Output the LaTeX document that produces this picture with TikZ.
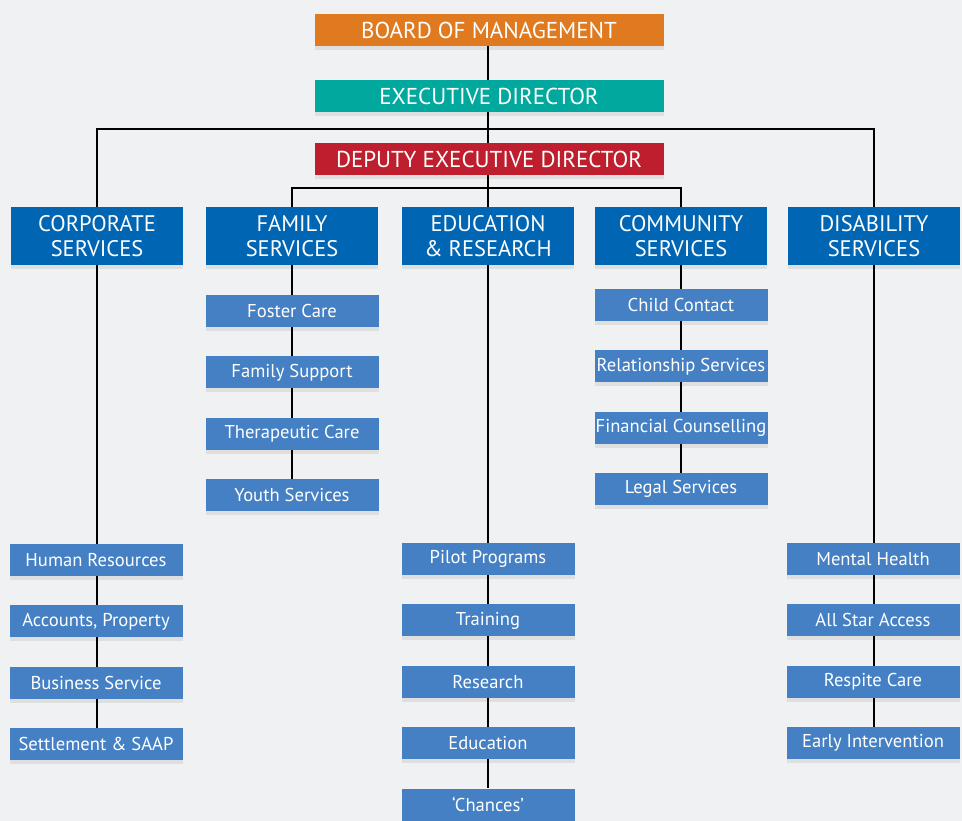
\documentclass[tikz,border=0pt]{standalone}
\usepackage{fontspec}
\setmainfont{PT Sans}
\usepackage{tikz}
\usetikzlibrary{positioning,backgrounds,shadows}
\definecolor{boardcolor}{RGB}{224,122,32}
\definecolor{execcolor}{RGB}{0,168,157}
\definecolor{deputycolor}{RGB}{190,30,45}
\definecolor{headcolor}{RGB}{0,102,179}
\definecolor{itemcolor}{RGB}{68,128,195}
\definecolor{bgcolor}{RGB}{240,241,242}

\begin{document}
\begin{tikzpicture}[
    x=1pt, y=-1pt,
    node distance=29pt,
    shade/.style={drop shadow={shadow xshift=0pt, shadow yshift=-4pt, opacity=0.07, fill=black}},
    topbox/.style={rectangle, shade, minimum width=349pt, minimum height=32pt, inner sep=0pt, text=white, font=\fontsize{23}{25}\selectfont},
    headbox/.style={rectangle, shade, fill=headcolor, minimum width=172pt, minimum height=58pt, inner sep=0pt, align=center, text=white, font=\fontsize{22.5}{25}\selectfont},
    itembox/.style={rectangle, shade, fill=itemcolor, minimum width=173pt, minimum height=32pt, inner sep=0pt, text=white, font=\fontsize{18.6}{21}\selectfont},
    link/.style={line width=2pt, black}
]
    \useasboundingbox (0,0) rectangle (962,821);

    % Top of the chart
    \node[topbox, fill=boardcolor] (board) at (489,30) {BOARD OF MANAGEMENT};
    \node[topbox, fill=execcolor] (exec) at (489,96) {EXECUTIVE DIRECTOR};
    \node[topbox, fill=deputycolor] (deputy) at (489,159) {DEPUTY EXECUTIVE DIRECTOR};

    % Services
    \node[headbox] (corp) at (97,236) {CORPORATE\\SERVICES};
    \node[headbox] (fam) at (292,236) {FAMILY\\SERVICES};
    \node[headbox] (edu) at (488,236) {EDUCATION\\\& RESEARCH};
    \node[headbox] (com) at (681,236) {COMMUNITY\\SERVICES};
    \node[headbox] (dis) at (874,236) {DISABILITY\\SERVICES};

    % Corporate services
    \node[itembox] (hr) at (96,560) {Human Resources};
    \node[itembox, below=of hr] (acc) {Accounts, Property};
    \node[itembox, below=of acc] (bus) {Business Service};
    \node[itembox, below=of bus] (settle) {Settlement \& SAAP};

    % Family services
    \node[itembox] (foster) at (292,311) {Foster Care};
    \node[itembox, below=of foster] (famsup) {Family Support};
    \node[itembox, below=of famsup] (thera) {Therapeutic Care};
    \node[itembox, below=of thera] (youth) {Youth Services};

    % Education & research
    \node[itembox] (pilot) at (488,559) {Pilot Programs};
    \node[itembox, below=of pilot] (train) {Training};
    \node[itembox, below=of train] (research) {Research};
    \node[itembox, below=of research] (educ) {Education};
    \node[itembox, below=of educ] (chances) {`Chances'};

    % Community services
    \node[itembox] (child) at (681,305) {Child Contact};
    \node[itembox, below=of child] (rel) {Relationship Services};
    \node[itembox, below=of rel] (fin) {Financial Counselling};
    \node[itembox, below=of fin] (legal) {Legal Services};

    % Disability services
    \node[itembox] (mental) at (873,559) {Mental Health};
    \node[itembox, below=of mental] (star) {All Star Access};
    \node[itembox, below=of star] (respite) {Respite Care};
    \node[itembox, below=of respite] (early) {Early Intervention};

    % Lines
    \begin{scope}[on background layer]
        \fill[bgcolor] (0,0) rectangle (962,821);
        \coordinate (topbus) at (488,129);
        \coordinate (midbus) at (488,188);
        \draw[link] (board.center -| edu) -- (edu);
        \draw[link] (corp) |- (topbus) -| (dis);
        \draw[link] (fam) |- (midbus) -| (com);
        \draw[link] (corp) -- (corp |- settle);
        \draw[link] (fam) -- (youth);
        \draw[link] (edu) -- (chances);
        \draw[link] (com) -- (legal);
        \draw[link] (dis) -- (dis |- early);
    \end{scope}
\end{tikzpicture}
\end{document}
